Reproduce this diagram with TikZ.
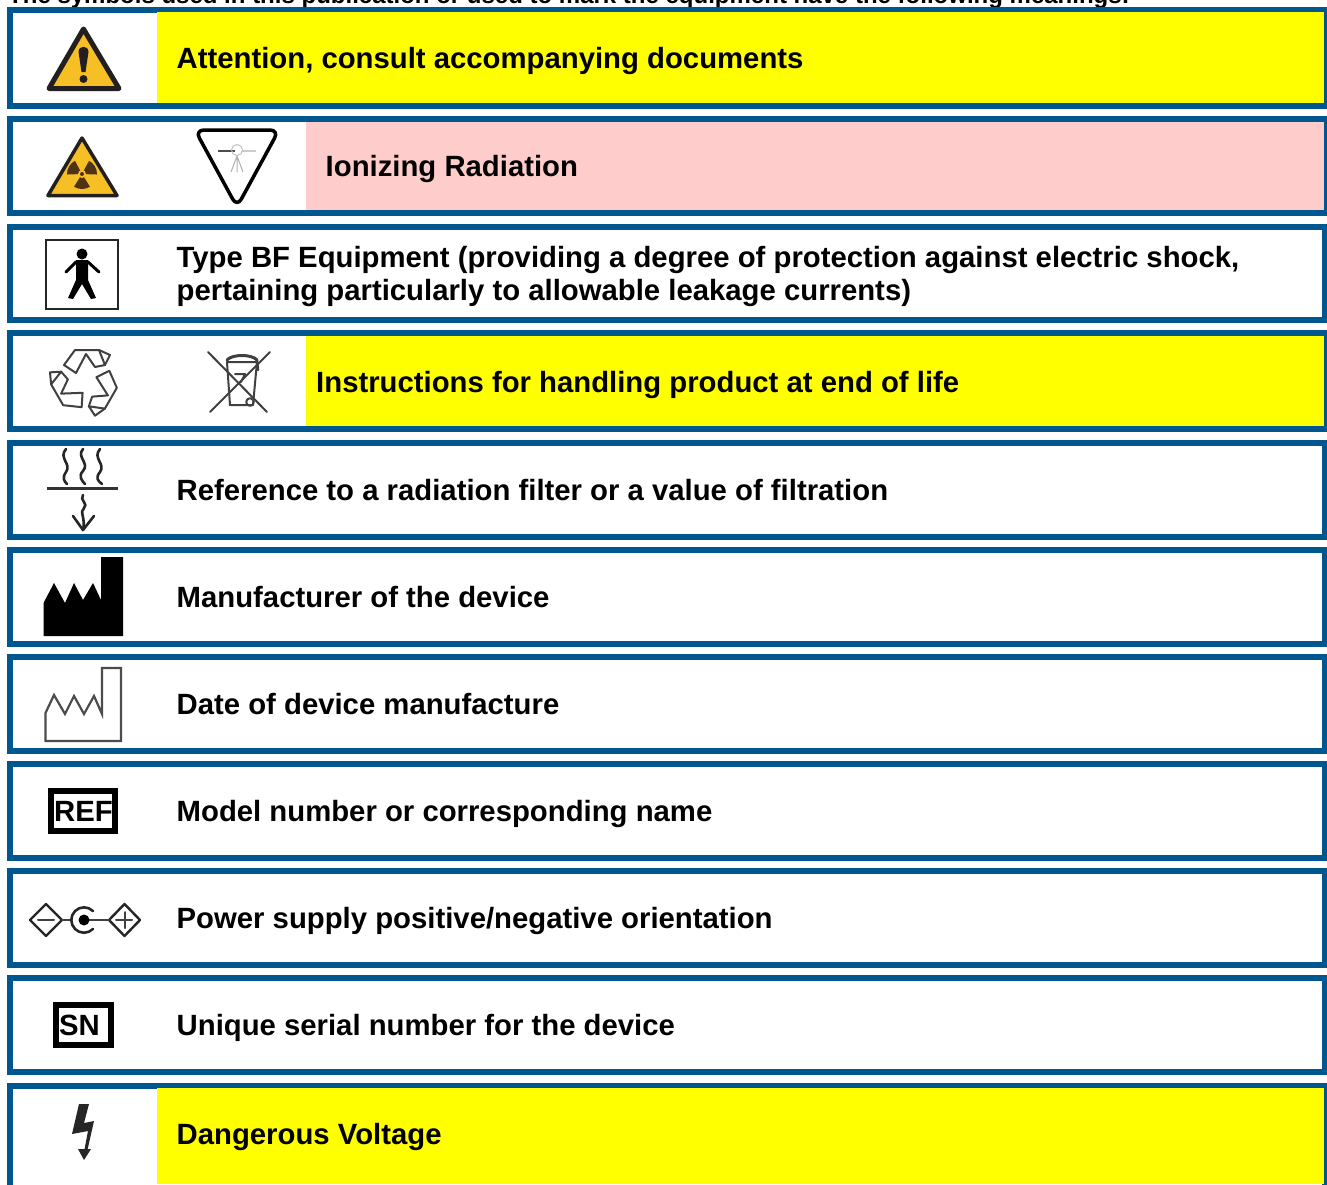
\documentclass[tikz,border=0pt]{standalone}
\usepackage{fontspec}
\setmainfont{Liberation Sans}
\definecolor{framebl}{RGB}{0,86,143}
\definecolor{warnyl}{RGB}{247,191,38}
\definecolor{inkd}{RGB}{35,31,32}
\definecolor{pinkbg}{RGB}{255,204,204}
\definecolor{pureyl}{RGB}{255,255,0}
\definecolor{blade}{RGB}{80,50,20}
\tikzset{
  rowframe/.style={draw=framebl,line width=6pt,fill=white},
  rowtext/.style={anchor=base west,inner sep=0pt,font=\fontsize{29.3}{33}\selectfont\bfseries,text=black},
  headtext/.style={anchor=base west,inner sep=0pt,font=\fontsize{24}{28}\selectfont\bfseries,text=black},
  tagbox/.style={draw=black,line width=6pt,fill=white},
  thinink/.style={draw=black!75,line width=2pt,line join=round,line cap=round},
  waveink/.style={draw=black!85,line width=2.6pt,line join=round,line cap=round},
  inkline/.style={draw=black!85,line width=2.4pt,line join=round,line cap=round},
}
\begin{document}
\begin{tikzpicture}[x=1pt,y=-1pt]
\useasboundingbox (0,0) rectangle (1327,1184);
\clip (0,0) rectangle (1327,1184);
\fill[white] (0,0) rectangle (1327,1184);
\node[headtext] (head) at (8,3) {The symbols used in this publication or used to mark the equipment have the following meanings:};
% frames
\draw[rowframe] (10,10) rectangle (1325,106);
\draw[rowframe] (10,119) rectangle (1325,213);
\draw[rowframe] (10,227) rectangle (1325,320);
\draw[rowframe] (10,333) rectangle (1325,429);
\draw[rowframe] (10,443) rectangle (1325,537);
\draw[rowframe] (10,550) rectangle (1325,644);
\draw[rowframe] (10,657) rectangle (1325,751);
\draw[rowframe] (10,764) rectangle (1325,858);
\draw[rowframe] (10,871) rectangle (1325,965);
\draw[rowframe] (10,978) rectangle (1325,1072);
\draw[rowframe] (10,1086) rectangle (1325,1200);
% fills
\fill[pureyl] (157,12) rectangle (1324,103);
\fill[pinkbg] (306,122) rectangle (1324,210);
\fill[pureyl] (306,336) rectangle (1324,426);
\fill[pureyl] (157,1088) rectangle (1324,1184);
% texts
\node[rowtext] (t1) at (176.5,68) {Attention, consult accompanying documents};
\node[rowtext] (t2) at (325.5,176) {Ionizing Radiation};
\node[rowtext] (t3a) at (176.5,267) {Type BF Equipment (providing a degree of protection against electric shock,};
\node[rowtext] (t3b) at (176.5,300) {pertaining particularly to allowable leakage currents)};
\node[rowtext] (t4) at (316,392) {Instructions for handling product at end of life};
\node[rowtext] (t5) at (176.5,500) {Reference to a radiation filter or a value of filtration};
\node[rowtext] (t6) at (176.5,607) {Manufacturer of the device};
\node[rowtext] (t7) at (176.5,714) {Date of device manufacture};
\node[rowtext] (t8) at (176.5,821) {Model number or corresponding name};
\node[rowtext] (t9) at (176.5,928) {Power supply positive/negative orientation};
\node[rowtext] (t10) at (176.5,1035) {Unique serial number for the device};
\node[rowtext] (t11) at (176.5,1144) {Dangerous Voltage};
% warning triangle
\draw[fill=warnyl,draw=inkd,line width=5pt,line join=round] (83.5,29) -- (49,88.5) -- (119,88.5) -- cycle;
\fill[inkd] (78.5,52) .. controls (78.5,45) and (88.5,45) .. (88.5,52) -- (85.5,72) -- (81.5,72) -- cycle;
\fill[inkd] (83.5,79) circle (4);
% radiation triangle
\draw[fill=warnyl,draw=inkd,line width=3.5pt,line join=round] (82,138) -- (48,195.5) -- (117,195.5) -- cycle;
\foreach \a in {210,330,90}{
  \fill[blade] (82,174) -- +(\a-32:15) arc[start angle=\a-32,end angle=\a+32,radius=15] -- cycle;
}
\fill[warnyl] (82,174) circle (4);
\fill[blade] (82,174) circle (2);
% inverted triangle
\draw[black,line width=3.5pt,rounded corners=9pt,line join=round] (195,130) -- (279,130) -- (237,207) -- cycle;
\draw[black!70,line width=1.5pt] (218,151) -- (235,151);
\draw[black!20,line width=1.5pt] (242,151) -- (256,151);
\draw[black!25,line width=1pt] (237,150) circle (5.5);
\draw[black!30,line width=1pt] (237,156) -- (231,172) (237,156) -- (243,172) (237,156) -- (237,172);
% BF
\draw[black!85,line width=2.8pt] (46,240) rectangle (118,309);
\fill[black] (82,254) circle (5.5);
\draw[black,line width=3pt,line cap=round,line join=round] (66,272) -- (76,262) -- (88,262) -- (99,272);
\fill[black] (76,260) -- (88,260) -- (88,280) -- (96,298) -- (91,299) -- (82,284) -- (73,299) -- (68,298) -- (76,280) -- cycle;
% recycling
\begin{scope}[shift={(85,381)}]
\foreach \r in {0,120,240}{
\begin{scope}[rotate=\r]
\draw[thinink] (-21,-16) -- (-10,-31) -- (14,-31) -- (25,-26) -- (20,-16) -- (10,-14) -- (1,-27) -- (-9,-8) -- cycle;
\draw[thinink] (14,-31) -- (20,-16);
\end{scope}}
\end{scope}
% bin
\draw[thinink] (208,352) -- (267,412) (270,352) -- (210,412);
\draw[thinink] (227,362) -- (230,405) -- (253,405) -- (257,362) -- cycle;
\draw[thinink,line width=3pt] (227,360) .. controls (232,354) and (252,354) .. (257,360);
\draw[thinink,line width=2.6pt] (257,360) -- (258,370);
\draw[thinink] (235,374) -- (245,374) -- (241,382);
\draw[thinink,line width=2.6pt] (230,405) -- (246,405);
\draw[thinink] (250,402) circle (3.8);
% filter
\draw[waveink] (66,449) .. controls (58,458) and (72,464) .. (66,472) .. controls (62,478) and (64,481) .. (67,484);
\draw[waveink] (83,449) .. controls (76,457) and (90,463) .. (83,471) .. controls (78,476) and (82,481) .. (85,484);
\draw[waveink] (100,449) .. controls (92,458) and (106,464) .. (100,472) .. controls (95,478) and (98,481) .. (102,484);
\draw[black!80,line width=3pt] (47,488) -- (118,488);
\draw[waveink] (83,495) .. controls (79,500) and (89,504) .. (84,508) .. controls (79,512) and (86,518) .. (83,530);
\draw[waveink] (73,516) -- (83,530) -- (94,516);
% factory filled
\fill[black] (43.5,636) -- (43.5,603) -- (54,583) -- (65,603) -- (74,583) -- (83,600) -- (93,583) -- (101,600) -- (101,557) -- (123,557) -- (123,636) -- cycle;
% factory outline
\draw[black!70,line width=2.2pt,line join=miter] (45.5,741) -- (45.5,713) -- (54,695) -- (65,714) -- (74,696) -- (84,714) -- (94,696) -- (102,714) -- (102,668) -- (121,668) -- (121,741) -- cycle;
% REF
\draw[tagbox] (51,791) rectangle (115,831);
\node[rowtext] (ref) at (54,821) {REF};
% power
\draw[inkline] (46,904) -- (62,920) -- (46,936) -- (30,920) -- cycle;
\draw[inkline] (124.5,904) -- (140,920) -- (124.5,936) -- (109,920) -- cycle;
\draw[thinink] (38,920) -- (54,920) (62,920) -- (72,920);
\draw[thinink] (84,920) -- (109,920) (116,920) -- (132,920) (124.5,912) -- (124.5,928);
\draw[inkline,line width=2.6pt] (93,929) arc[start angle=45,end angle=315,radius=12.7];
\fill[black] (84,920) circle (5.5);
% SN
\draw[tagbox] (56,1005) rectangle (111,1045);
\node[rowtext] (sn) at (59,1035) {SN};
% bolt
\fill[black!85] (79,1104) -- (89,1104) -- (84,1123) -- (94,1121) -- (87,1152) -- (84,1152) -- (88,1131) -- (72,1134) -- cycle;
\fill[black!85] (78,1149) -- (91,1149) -- (84,1160) -- cycle;
\end{tikzpicture}
\end{document}
